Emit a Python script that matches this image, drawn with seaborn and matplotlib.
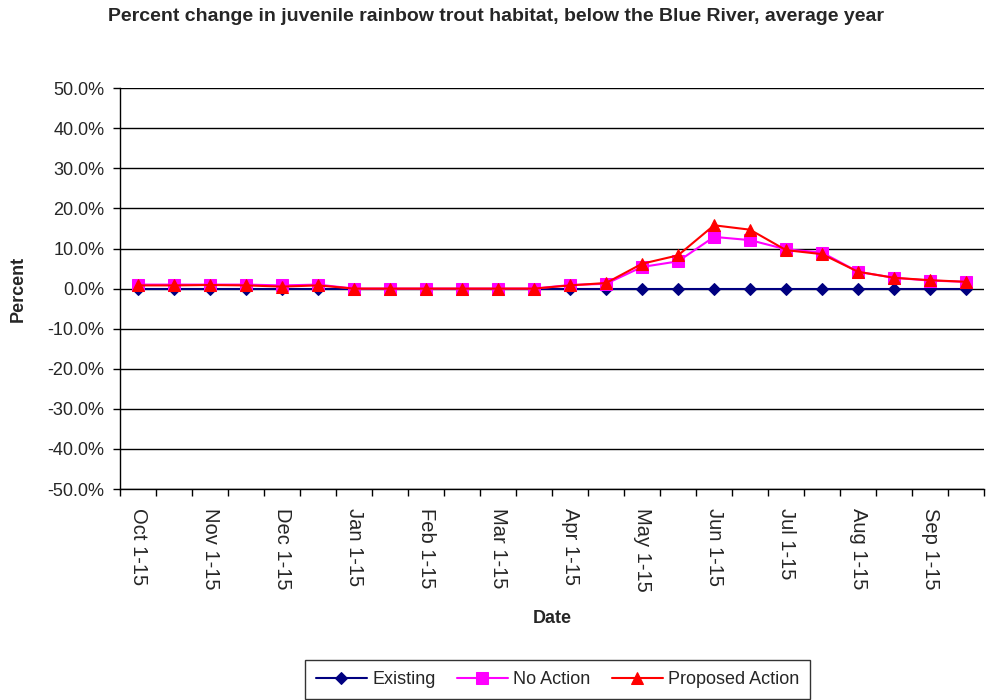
import seaborn as sns
import matplotlib.pyplot as plt
import pandas as pd
import numpy as np

# half-month periods, Oct through Sep
periods = ["Oct 1-15", "Oct 16-31", "Nov 1-15", "Nov 16-30", "Dec 1-15", "Dec 16-31",
           "Jan 1-15", "Jan 16-31", "Feb 1-15", "Feb 16-28", "Mar 1-15", "Mar 16-31",
           "Apr 1-15", "Apr 16-30", "May 1-15", "May 16-31", "Jun 1-15", "Jun 16-30",
           "Jul 1-15", "Jul 16-31", "Aug 1-15", "Aug 16-31", "Sep 1-15", "Sep 16-30"]

existing = [0.0] * 24
no_action = [1.0, 1.0, 1.0, 1.0, 0.8, 1.0, 0.0, 0.0, 0.0, 0.0, 0.0, 0.0,
             0.9, 1.2, 5.4, 6.8, 12.9, 12.1, 9.8, 9.0, 4.2, 2.7, 2.0, 1.7]
proposed = [0.8, 0.8, 0.9, 0.8, 0.5, 0.8, 0.0, 0.0, 0.0, 0.0, 0.0, 0.0,
            0.8, 1.4, 6.2, 8.3, 15.8, 14.7, 9.6, 8.6, 4.2, 2.7, 2.1, 1.7]

series = ["Existing", "No Action", "Proposed Action"]
colors = ["#000080", "#FF00FF", "#FF0000"]
markers = ["D", "s", "^"]
msizes = [6, 8, 9]

df = pd.DataFrame({
    "idx": np.tile(np.arange(len(periods)), 3),
    "value": existing + no_action + proposed,
    "series": np.repeat(series, len(periods)),
})

sns.set_style("white")
plt.rcParams["font.family"] = ["Liberation Sans", "DejaVu Sans"]

fig = plt.figure(figsize=(9.87, 7.0), dpi=100)
ax = fig.add_axes([0.1216, 0.3014, 0.8754, 0.5726])

for name, c, m, ms in zip(series, colors, markers, msizes):
    sub = df[df["series"] == name]
    sns.lineplot(data=sub, x="idx", y="value", ax=ax, color=c, marker=m,
                 markersize=ms, markeredgecolor=c, linewidth=1.5, label=name)

ax.set_xlim(-0.5, len(periods) - 0.5)
ax.set_ylim(-50, 50)
ax.set_yticks(np.arange(-50, 51, 10))
ax.set_yticklabels([f"{v:.1f}%" for v in np.arange(-50, 51, 10)], fontsize=13)
ax.yaxis.grid(True, color="black", linewidth=1)
ax.set_axisbelow(True)

ax.set_xticks(np.arange(-0.5, len(periods), 1))
ax.set_xticklabels([])
ax.set_xticks(np.arange(0, len(periods), 2), minor=True)
ax.set_xticklabels(periods[::2], minor=True, rotation=270, fontsize=14.5)
ax.tick_params(axis="x", which="major", direction="out", length=5, width=1, color="black", bottom=True)
ax.tick_params(axis="x", which="minor", length=0, pad=14)
ax.tick_params(axis="y", direction="out", length=5, width=1, color="black", left=True, pad=6)

for s in ["top", "right"]:
    ax.spines[s].set_visible(False)
for s in ["left", "bottom"]:
    ax.spines[s].set_color("black")
    ax.spines[s].set_linewidth(1)

ax.set_xlabel("Date", fontsize=13, fontweight="bold", labelpad=13)
ax.set_ylabel("Percent", fontsize=13, fontweight="bold", labelpad=15)

fig.suptitle("Percent change in juvenile rainbow trout habitat, below the Blue River, average year",
             fontsize=14, fontweight="bold", x=0.503, y=0.988)

ax.legend_.remove()
handles, labels = ax.get_legend_handles_labels()
leg = fig.legend(handles, labels, loc="center", bbox_to_anchor=(0.565, 0.029), ncol=3,
                 fontsize=13, frameon=True, fancybox=False, edgecolor="black",
                 handlelength=2.8, handletextpad=0.3, columnspacing=1.2, borderpad=0.6)
leg.get_frame().set_linewidth(1)

fig.savefig("out.png", dpi=100)
